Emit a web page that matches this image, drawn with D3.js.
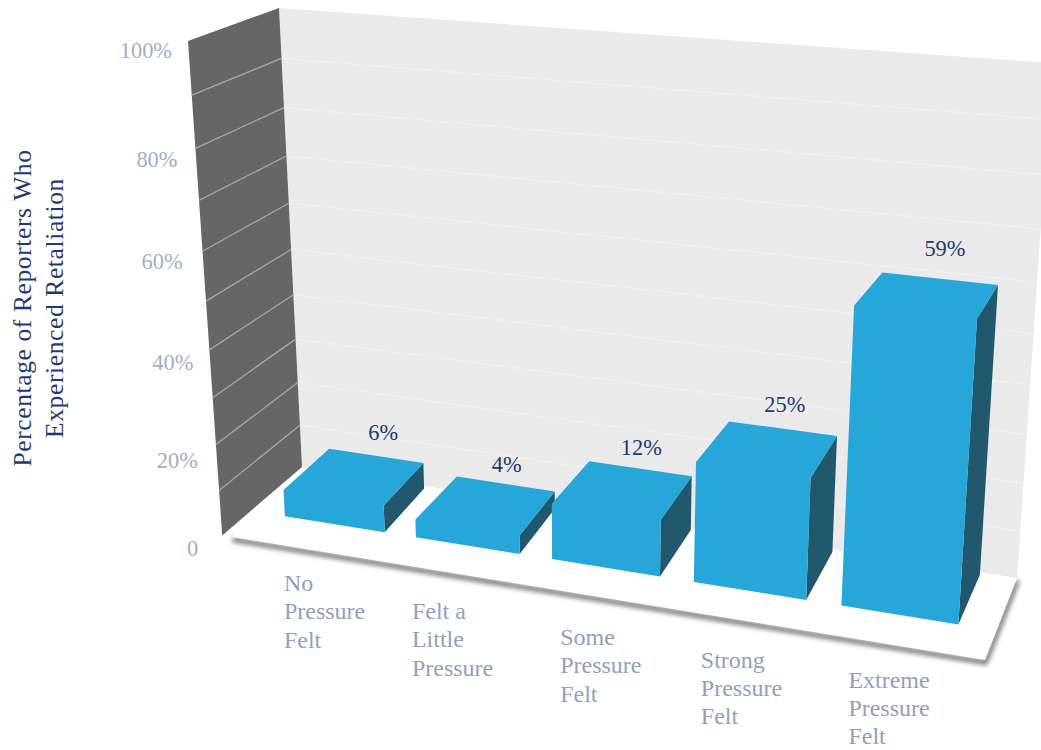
<!DOCTYPE html>
<html>
<head>
<meta charset="utf-8">
<style>
html,body{margin:0;padding:0;background:#fff}
svg{display:block}
text{font-family:"Liberation Serif",serif}
</style>
<script src="https://cdn.jsdelivr.net/npm/d3@7"></script>
</head>
<body>
<svg id="chart" width="1041" height="750" viewBox="0 0 1041 750"></svg>
<script>
// ---- data ----
const categories = [["No","Pressure","Felt"],["Felt a","Little","Pressure"],["Some","Pressure","Felt"],["Strong","Pressure","Felt"],["Extreme","Pressure","Felt"]];
const values = [6,4,12,25,59];
const valueLabels = ["6%","4%","12%","25%","59%"];
const yTicks = [0,20,40,60,80,100];
const yTickLabels = ["0","20%","40%","60%","80%","100%"];
const gridValues = [0,10,20,30,40,50,60,70,80,90,100];
const yTitleLines = ["Percentage of Reporters Who","Experienced Retaliation"];

// ---- camera: screen corners of the unit box (u across, v into depth, h up) ----
const FRAME = {
  fl0:[232,537], fr0:[985,660], bl0:[302,467], br0:[1017,578],
  fl1:[198.7,41.7], fr1:[1022,99], bl1:[279,8], br1:[1052,63]
};
const PERSPECTIVE = 0.11;
const warp = t => t/(1+PERSPECTIVE*(1-t));
const mix = (a,b,t) => [a[0]+(b[0]-a[0])*t, a[1]+(b[1]-a[1])*t];
function project(u,v,h){
  const f0=mix(FRAME.fl0,FRAME.fr0,u), b0=mix(FRAME.bl0,FRAME.br0,u);
  const f1=mix(FRAME.fl1,FRAME.fr1,u), b1=mix(FRAME.bl1,FRAME.br1,u);
  return mix(mix(f0,b0,v), mix(f1,b1,v), h);
}
const WALL_U = -0.013;
const BACK_LEFT_INSET = 0.005, BACK_RIGHT_INSET = 0.001;

// ---- scales ----
const ids = d3.range(values.length);
const xBand = d3.scaleBand().domain(ids).range([0.0185,0.9763]).paddingInner(0.235).paddingOuter(0.12);
const yScale = d3.scaleLinear().domain([0,100]).range([0,1]);
const zScale = d3.scaleLinear().domain([0,1]).range([0.36,0.97]);
const H = v => warp(yScale(v));

const svg = d3.select("#chart");
const defs = svg.append("defs");
defs.append("filter").attr("id","soft").attr("x","-5%").attr("y","-5%").attr("width","110%").attr("height","110%")
  .append("feGaussianBlur").attr("stdDeviation",0.6);
defs.append("filter").attr("id","shadow").attr("filterUnits","userSpaceOnUse")
  .attr("x",150).attr("y",450).attr("width",891).attr("height",300)
  .append("feGaussianBlur").attr("stdDeviation",2.6);

const poly = pts => "M"+pts.map(p=>p[0].toFixed(1)+","+p[1].toFixed(1)).join("L")+"Z";
const lineP = pts => "M"+pts.map(p=>p[0].toFixed(1)+","+p[1].toFixed(1)).join("L");

// floor shadow
const shift = p => [p[0]+0.5,p[1]+2.5];
svg.append("path")
  .attr("d",lineP([project(0,0,0),project(1,0,0),project(1,1,0)].map(shift)))
  .attr("fill","none").attr("stroke","#666").attr("stroke-width",4.5)
  .attr("filter","url(#shadow)");

const scene = svg.append("g").attr("filter","url(#soft)");

// floor
scene.append("path").attr("d",poly([project(0,0,0),project(1,0,0),project(1,1,0),project(0,1,0)])).attr("fill","#fff");

// back wall
scene.append("path").attr("d",poly([project(0,1,0),project(1,1,0),project(1,1,1),project(0,1,1)])).attr("fill","#eaeaea");
scene.append("g").selectAll("path").data(gridValues.slice(1,-1)).join("path")
  .attr("d",d=>lineP([project(0,1,H(d)),project(1,1,H(d))]))
  .attr("stroke","#f1f1f1").attr("stroke-width",1.3).attr("fill","none");

// left wall
scene.append("path").attr("d",poly([project(WALL_U,0,0),project(0,1,0),project(0,1,1),project(WALL_U,0,1)])).attr("fill","#666");
scene.append("g").selectAll("path").data(gridValues.slice(1,-1)).join("path")
  .attr("d",d=>lineP([project(WALL_U,0,H(d)),project(0,1,H(d))]))
  .attr("stroke","#a8a8a8").attr("stroke-width",1.3).attr("fill","none");

// bars
const bars = scene.append("g").selectAll("g").data(ids).join("g");
const u0 = i => warp(xBand(i));
const u1 = i => warp(xBand(i)+xBand.bandwidth());
const b0 = i => u0(i)+BACK_LEFT_INSET;
const b1 = i => u1(i)+BACK_RIGHT_INSET;
const zF = zScale(0), zB = zScale(1);
bars.append("path").attr("fill","#24586e")
  .attr("d",i=>{const h=H(values[i]);return poly([project(u1(i),zF,0),project(b1(i),zB,0),project(b1(i),zB,h),project(u1(i),zF,h)]);});
// front and top share one colour: one outline, no seam
bars.append("path").attr("fill","#25a6d9")
  .attr("d",i=>{const h=H(values[i]);return poly([project(u0(i),zF,0),project(u1(i),zF,0),project(u1(i),zF,h),project(b1(i),zB,h),project(b0(i),zB,h),project(u0(i),zF,h)]);});

// value labels
const valueNudge = [[9,-15],[3,-12],[3,-13],[4,-16],[7,-23]];
svg.append("g").selectAll("text").data(ids).join("text")
  .attr("x",i=>project((u0(i)+u1(i))/2,zB,H(values[i]))[0]+valueNudge[i][0])
  .attr("y",i=>project((u0(i)+u1(i))/2,zB,H(values[i]))[1]+valueNudge[i][1])
  .attr("text-anchor","middle").attr("font-size",22.4).attr("fill","#1f3a6e")
  .text(i=>valueLabels[i]);

// y tick labels
const tickNudge = [[-24,21],[-18,23],[-16,20],[-20,18],[-18,19],[-16,17]];
svg.append("g").selectAll("text").data(yTicks).join("text")
  .attr("x",(d,i)=>project(WALL_U,0,H(d))[0]+tickNudge[i][0])
  .attr("y",(d,i)=>project(WALL_U,0,H(d))[1]+tickNudge[i][1])
  .attr("text-anchor","end").attr("font-size",22.4).attr("fill","#a3aec8")
  .text((d,i)=>yTickLabels[i]);

// category labels
const labelNudge = [[-1,75],[-4,82],[8,86],[7,86],[7,82]];
const catG = svg.append("g").selectAll("g").data(ids).join("g")
  .attr("transform",i=>{const p=project(u0(i),zF,0);return `translate(${p[0]+labelNudge[i][0]},${p[1]+labelNudge[i][1]})`;});
catG.selectAll("text").data(i=>categories[i]).join("text")
  .attr("x",0).attr("y",(d,j)=>j*28.2)
  .attr("font-size",24).attr("fill","#919fba")
  .text(d=>d);

// y title
svg.append("g").attr("transform","translate(39,308) rotate(-90)")
  .selectAll("text").data(yTitleLines).join("text")
  .attr("x",0).attr("y",(d,i)=>-8+i*32)
  .attr("text-anchor","middle").attr("font-size",25.5).attr("letter-spacing",0.62).attr("fill","#1f3a6e")
  .text(d=>d);
</script>
</body>
</html>
